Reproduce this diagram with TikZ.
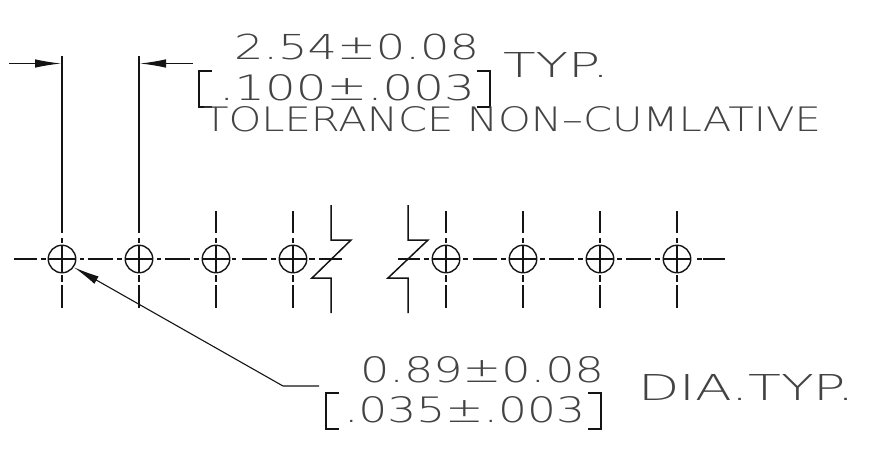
\documentclass[tikz,border=0pt]{standalone}
\usepackage{fontspec}
\setmainfont{DejaVu Sans ExtraLight}
\usetikzlibrary{arrows.meta}
\definecolor{ink}{RGB}{20,20,20}
\tikzset{
  x=1pt,y=-1pt,
  cad/.style={inner sep=0pt,outer sep=0pt,anchor=base west,text=ink!80,font=\fontsize{33}{33}\selectfont},
  centerline/.style={line width=1.1pt,draw=ink},
  part/.style={line width=1.5pt,draw=ink},
  thin/.style={line width=1.1pt,draw=ink},
}
\newcommand{\hsegs}[1]{\foreach \a/\b in {#1}{\draw[centerline] (\a,259)--(\b,259);}}
\begin{document}
\begin{tikzpicture}
\useasboundingbox (0,0) rectangle (890,450);
\fill[white] (0,0) rectangle (890,450);
% Holes
\foreach \n/\cx in {a/62,b/139,c/216,d/293,e/446,f/523,g/600,h/677}{
  \node[circle,draw=ink,line width=1.4pt,minimum size=27.5pt,inner sep=0pt] (\n) at (\cx,259) {};
  \draw[centerline] (\n.west)--(\n.east);
  \draw[centerline] (\cx,245)--(\cx,273);
  \draw[centerline] (\cx,238)--(\cx,243);
  \draw[centerline] (\cx,275)--(\cx,282);
  \draw[centerline] (\cx,285)--(\cx,308);
}
\foreach \cx in {216,293,446,523,600,677}{\draw[centerline] (\cx,211)--(\cx,233);}
\foreach \cx in {62,139}{\draw[centerline] (\cx,56)--(\cx,233);}
\hsegs{14/37,41/46,80/84,88/113,117/122,157/161,165/190,194/199,232/236,242/267,271/276,309/315,319/342,398/420,424/429,463/468,473/497,501/506,540/545,549/574,578/583,617/622,626/651,655/660,697/702,703/725}
% Break lines
\draw[part] (331,205)--(331,240)--(351,240)--(312,278)--(331,278)--(331,313);
\draw[part] (408,205)--(408,240)--(428,240)--(388,278)--(408,278)--(408,313);
% Dimension arrows
\coordinate (da) at (9,63.5);
\coordinate (db) at (193,63.5);
\draw[thin,-{Latex[length=26pt,width=8.5pt]}] (da)--(61,63.5);
\draw[thin,-{Latex[length=26pt,width=8.5pt]}] (db)--(140,63.5);
% Leader
\coordinate (lk) at (283,386);
\coordinate (le) at (319,386);
\draw[thin,-{Latex[length=26pt,width=8.5pt]}] (le)--(lk)--(a.-35);
% Text
\node[cad] (t1) at (234,59.5) {\resizebox{245pt}{25.5pt}{2.54±0.08}};
\node[cad] (t2) at (219,100.5) {\resizebox{256pt}{26pt}{.100±.003}};
\draw[thin] (212,71)--(199,71)--(199,107)--(212,107);
\draw[thin] (477,71)--(490,71)--(490,107)--(477,107);
\node[cad] (t3) at (503,77.5) {\resizebox{106pt}{25pt}{TYP.}};
\node[cad] (t4) at (203,131.5) {\resizebox{618pt}{25pt}{TOLERANCE NON–CUMLATIVE}};
\node[cad] (t5) at (360,382.5) {\resizebox{244pt}{26pt}{0.89±0.08}};
\node[cad] (t6) at (344,422.5) {\resizebox{241pt}{26pt}{.035±.003}};
\draw[thin] (339,393)--(326,393)--(326,429)--(339,429);
\draw[thin] (588,393)--(601,393)--(601,429)--(588,429);
\node[cad] (t7) at (638,400.5) {\resizebox{217pt}{26pt}{DIA.TYP.}};
\end{tikzpicture}
\end{document}
